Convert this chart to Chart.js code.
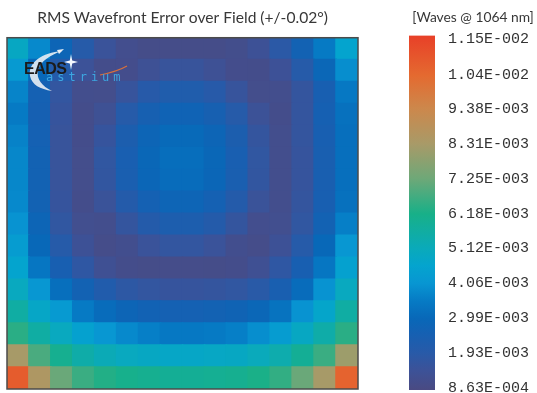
<!DOCTYPE html>
<html>
<head>
<meta charset="utf-8">
<script src="https://cdn.jsdelivr.net/npm/chart.js@4.4.0/dist/chart.umd.min.js"></script>
<style>
  html, body { margin: 0; padding: 0; background: #fff; overflow: hidden; width: 537px; height: 393px; }
  #field { position: absolute; left: 0; top: 0; }
  #bar { position: absolute; left: 400px; top: 0; }
  #logo { position: absolute; left: 0; top: 0; width: 140px; height: 100px; pointer-events: none; }
  .eads { position: absolute; left: 24px; top: 60px; font: bold 16px "Liberation Sans", sans-serif; color: #1b1b1b; letter-spacing: -0.5px; }
  .astrium { position: absolute; left: 46px; top: 70px; font: 12px "DejaVu Sans Mono", monospace; color: #3da6e0; letter-spacing: 4px; }
</style>
</head>
<body>
<canvas id="field" width="365" height="393"></canvas>
<canvas id="bar" width="137" height="420"></canvas>
<div id="logo">
  <svg width="140" height="100" style="position:absolute;left:0;top:0">
    <path d="M62 51 C 42 53, 28 62, 30 76 C 32 85, 40 89, 52 91 C 42 86, 36 79, 38 70 C 41 61, 50 55, 62 51 Z" fill="#e8eef4" opacity="0.9"/>
    <path d="M57 50 L 64 49 L 59 54 Z" fill="#e8eef4"/>
    <path d="M71 54 L72.2 60.5 L78 62 L72.2 63.5 L71 70 L69.8 63.5 L64 62 L69.8 60.5 Z" fill="#f4f8ff"/>
    <path d="M100 75 C 110 73, 120 70, 127 66" stroke="#d8703c" stroke-width="1.2" fill="none"/>
  </svg>
  <div class="eads">EADS</div>
  <div class="astrium">astrium</div>
</div>
<script>
// RMS wavefront error, milli-waves @ 1064 nm, rows top -> bottom, columns left -> right
const rmsMilliWaves = [
  [4.9, 3.8, 2.8, 2.0, 1.45, 1.12, 1.0, 1.0, 1.0, 1.0, 1.08, 1.35, 1.85, 2.6, 3.5, 4.6],
  [4.2, 3.0, 2.05, 1.4, 1.05, 1.06, 1.33, 1.5, 1.5, 1.33, 1.06, 1.04, 1.36, 2.0, 2.9, 3.9],
  [3.7, 2.55, 1.65, 1.1, 1.07, 1.53, 1.96, 2.18, 2.18, 1.96, 1.53, 1.07, 1.09, 1.6, 2.45, 3.45],
  [3.5, 2.5, 1.55, 1.05, 1.3, 2.0, 2.47, 2.71, 2.71, 2.47, 2.0, 1.38, 1.05, 1.6, 2.5, 3.25],
  [3.65, 2.55, 1.5, 1.05, 1.55, 2.3, 2.8, 3.04, 3.04, 2.8, 2.3, 1.6, 1.1, 1.6, 2.45, 3.2],
  [3.75, 2.6, 1.5, 1.07, 1.7, 2.42, 2.92, 3.15, 3.15, 2.92, 2.42, 1.7, 1.1, 1.55, 2.4, 3.2],
  [3.75, 2.6, 1.5, 1.07, 1.67, 2.38, 2.87, 3.1, 3.1, 2.87, 2.38, 1.67, 1.1, 1.55, 2.4, 3.2],
  [3.8, 2.6, 1.55, 1.05, 1.44, 2.07, 2.55, 2.79, 2.79, 2.55, 2.07, 1.44, 1.1, 1.6, 2.45, 3.25],
  [4.0, 2.8, 1.7, 1.15, 1.1, 1.6, 2.05, 2.28, 2.28, 2.05, 1.6, 1.12, 1.15, 1.7, 2.6, 3.6],
  [4.3, 3.0, 2.0, 1.35, 1.02, 1.13, 1.45, 1.65, 1.65, 1.45, 1.13, 1.02, 1.35, 2.0, 3.0, 4.1],
  [4.6, 3.4, 2.45, 1.75, 1.27, 1.04, 1.0, 1.03, 1.03, 1.0, 1.04, 1.27, 1.75, 2.45, 3.4, 4.5],
  [5.0, 4.1, 3.2, 2.6, 2.15, 1.8, 1.65, 1.55, 1.55, 1.6, 1.7, 1.9, 2.4, 3.1, 4.0, 5.0],
  [5.6, 4.8, 4.2, 3.5, 3.1, 2.8, 2.65, 2.55, 2.55, 2.6, 2.7, 2.9, 3.3, 4.0, 4.7, 5.6],
  [6.4, 5.6, 5.0, 4.5, 4.1, 3.8, 3.6, 3.45, 3.45, 3.5, 3.6, 3.9, 4.3, 4.9, 5.5, 6.4],
  [8.3, 6.8, 6.0, 5.5, 5.2, 5.0, 4.9, 4.8, 4.8, 4.85, 4.9, 5.1, 5.4, 5.9, 6.6, 8.1],
  [10.8, 8.5, 7.2, 6.6, 6.3, 6.1, 6.0, 5.9, 5.9, 5.95, 6.0, 6.2, 6.5, 7.2, 8.3, 10.6]
];

const tickValues = [1.15e-2, 1.04e-2, 9.38e-3, 8.31e-3, 7.25e-3, 6.18e-3, 5.12e-3, 4.06e-3, 2.99e-3, 1.93e-3, 8.63e-4];
const tickLabels = ['1.15E-002', '1.04E-002', '9.38E-003', '8.31E-003', '7.25E-003', '6.18E-003',
  '5.12E-003', '4.06E-003', '2.99E-003', '1.93E-003', '8.63E-004'];
const colorbarRange = [8.0e-4, 1.162e-2];

// colour map (value in waves -> rgb)
const cmap = [
  [8.0e-4, [74, 74, 130]],
  [1.4e-3, [60, 82, 152]],
  [1.93e-3, [40, 90, 168]],
  [2.5e-3, [22, 96, 178]],
  [2.99e-3, [8, 104, 184]],
  [3.5e-3, [6, 122, 196]],
  [4.06e-3, [8, 150, 210]],
  [4.6e-3, [4, 164, 206]],
  [5.12e-3, [10, 170, 186]],
  [6.18e-3, [24, 176, 136]],
  [7.25e-3, [110, 168, 120]],
  [8.31e-3, [168, 154, 104]],
  [9.38e-3, [204, 136, 76]],
  [1.04e-2, [228, 106, 48]],
  [1.162e-2, [232, 64, 40]]
];

function colorFor(v) {
  if (v <= cmap[0][0]) return 'rgb(' + cmap[0][1].join(',') + ')';
  for (let i = 1; i < cmap.length; i++) {
    if (v <= cmap[i][0]) {
      const t = (v - cmap[i - 1][0]) / (cmap[i][0] - cmap[i - 1][0]);
      const a = cmap[i - 1][1], b = cmap[i][1];
      return 'rgb(' + a.map((c, k) => Math.round(c + (b[k] - c) * t)).join(',') + ')';
    }
  }
  return 'rgb(' + cmap[cmap.length - 1][1].join(',') + ')';
}

const nRows = rmsMilliWaves.length;
const nCols = rmsMilliWaves[0].length;
let cells = [];
rmsMilliWaves.forEach((row, j) => {
  row.forEach((mw, i) => {
    cells.push({ x: i + 0.5, y: j + 0.5, v: mw * 1e-3 });
  });
});

const frame = {
  id: 'frame',
  afterDatasetsDraw(chart) {
    const { ctx, chartArea: a } = chart;
    ctx.save();
    ctx.strokeStyle = '#4b4b4b';
    ctx.lineWidth = 1.5;
    ctx.strokeRect(a.left, a.top, a.width, a.height);
    ctx.restore();
  }
};

new Chart(document.getElementById('field'), {
  type: 'scatter',
  data: {
    datasets: [{
      data: cells,
      pointStyle: 'rect',
      borderWidth: 0,
      pointRadius: ctx => (ctx.chart.chartArea ? ctx.chart.chartArea.width / nCols : 22) * 0.76,
      backgroundColor: ctx => ctx.raw ? colorFor(ctx.raw.v) : '#000'
    }]
  },
  options: {
    responsive: false,
    animation: false,
    events: [],
    layout: { autoPadding: false, padding: { left: 7, right: 7, top: 0, bottom: 4 } },
    plugins: {
      legend: { display: false },
      tooltip: { enabled: false },
      title: {
        display: true,
        text: 'RMS Wavefront Error over Field (+/-0.02°)',
        color: '#383838',
        font: { family: 'Lato', size: 15.6, weight: 'normal' },
        padding: { top: 9, bottom: 10 }
      }
    },
    scales: {
      x: { type: 'linear', min: 0, max: nCols, display: false },
      y: { type: 'linear', min: 0, max: nRows, reverse: true, display: false }
    }
  },
  plugins: [frame]
});

new Chart(document.getElementById('bar'), {
  type: 'bar',
  data: {
    labels: [''],
    datasets: [{
      data: [colorbarRange],
      barPercentage: 1,
      categoryPercentage: 1,
      borderWidth: 0,
      backgroundColor: ctx => {
        const chart = ctx.chart;
        if (!chart.chartArea) return '#888';
        const ys = chart.scales.y;
        const g = chart.ctx.createLinearGradient(0, ys.getPixelForValue(colorbarRange[0]), 0, ys.getPixelForValue(colorbarRange[1]));
        const span = colorbarRange[1] - colorbarRange[0];
        cmap.forEach(s => g.addColorStop(Math.min(1, Math.max(0, (s[0] - colorbarRange[0]) / span)), 'rgb(' + s[1].join(',') + ')'));
        return g;
      }
    }]
  },
  options: {
    responsive: false,
    animation: false,
    events: [],
    layout: { autoPadding: false, padding: { left: 9, right: 0, top: 0, bottom: 30 } },
    plugins: {
      legend: { display: false },
      tooltip: { enabled: false },
      title: {
        display: true,
        text: '[Waves @ 1064 nm]',
        color: '#383838',
        font: { family: 'Lato', size: 13.8, weight: 'normal' },
        padding: { top: 9, bottom: 10 }
      }
    },
    scales: {
      x: { display: false },
      y: {
        position: 'right',
        min: colorbarRange[0],
        max: colorbarRange[1],
        grid: { display: false, drawTicks: false },
        border: { display: false },
        afterBuildTicks: scale => { scale.ticks = tickValues.map(v => ({ value: v })); },
        afterFit: scale => { scale.width = 102; },
        ticks: {
          autoSkip: false,
          padding: 13,
          color: '#333',
          font: { family: 'Liberation Mono', size: 15 },
          callback: value => tickLabels[tickValues.indexOf(value)]
        }
      }
    }
  }
});
</script>
</body>
</html>
